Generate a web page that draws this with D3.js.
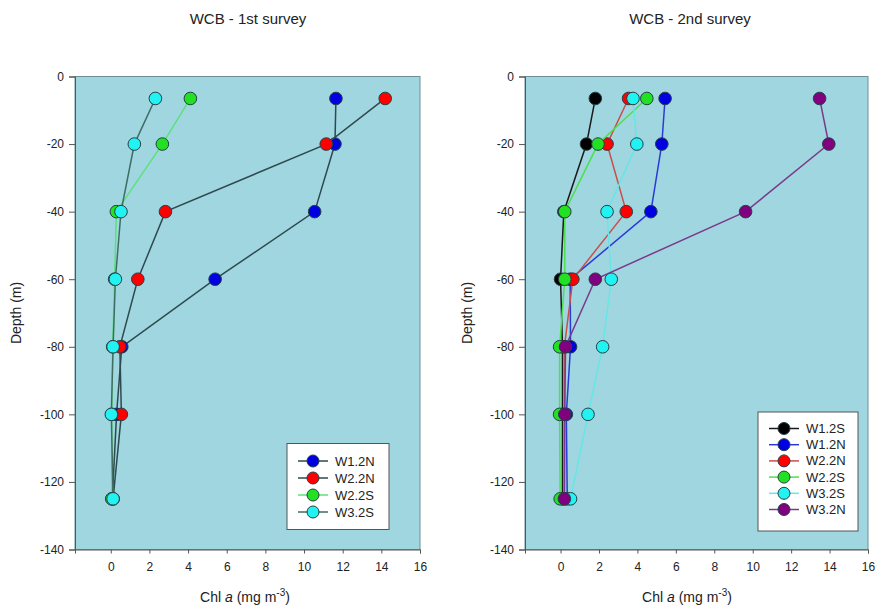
<!DOCTYPE html>
<html><head><meta charset="utf-8">
<script src="https://cdn.jsdelivr.net/npm/d3@7"></script>
<style>body{margin:0;background:#fff;} text{font-family:Arial, "Liberation Sans", sans-serif;}</style>
</head><body><svg id="c" width="881" height="614"></svg>
<script>
const depths = [-6.5, -20, -40, -60, -80, -100, -125];
const xTicks = [0, 2, 4, 6, 8, 10, 12, 14, 16];
const yTicks = [0, -20, -40, -60, -80, -100, -120, -140];

// 1st survey
const s1Names = ["W1.2N", "W2.2N", "W2.2S", "W3.2S"];
const s1_W12N = [11.65, 11.6, 10.55, 5.4, 0.57, 0.3, 0.08];
const s1_W22N = [14.2, 11.15, 2.83, 1.4, 0.47, 0.55, 0.12];
const s1_W22S = [4.12, 2.67, 0.29, 0.2, 0.1, 0.05, 0.05];
const s1_W32S = [2.31, 1.22, 0.53, 0.24, 0.12, 0.03, 0.12];
const s1Fill = ["#0000e0", "#ff0000", "#22e022", "#22f2f2"];
const s1Line = ["#2e4a4e", "#2e4a4e", "#5ee07a", "#3e6e62"];

// 2nd survey
const s2Names = ["W1.2S", "W1.2N", "W2.2N", "W2.2S", "W3.2S", "W3.2N"];
const s2_W12S = [1.81, 1.35, 0.17, 0.0, 0.1, 0.1, 0.1];
const s2_W12N = [5.44, 5.27, 4.7, 0.5, 0.52, 0.3, 0.35];
const s2_W22N = [3.54, 2.42, 3.42, 0.64, 0.2, 0.2, 0.2];
const s2_W22S = [4.49, 1.95, 0.22, 0.22, -0.05, -0.05, -0.02];
const s2_W32S = [3.77, 3.97, 2.42, 2.64, 2.19, 1.43, 0.52];
const s2_W32N = [13.48, 13.96, 9.63, 1.81, 0.26, 0.22, 0.2];
const s2Fill = ["#000000", "#0000e0", "#ff0000", "#22e022", "#22f2f2", "#800080"];
const s2Line = ["#1a1a1a", "#2a3ad8", "#c8504a", "#4ee04e", "#66e6e6", "#7a3a8a"];

const svg = d3.select("#c");
const fmt = d => String(d);

function panel(cfg) {
  const x = d3.scaleLinear().domain([-1.85, 16]).range([cfg.x0, cfg.x1]);
  const y = d3.scaleLinear().domain([0, -140]).range([76.5, 549.5]);
  const g = svg.append("g");
  g.append("rect").attr("x", cfg.x0).attr("y", 76.5).attr("width", cfg.x1 - cfg.x0).attr("height", 473)
    .attr("fill", "#a0d6e0").attr("stroke", "#6f8f96").attr("stroke-width", 1);
  const xa = g.append("g").attr("transform", `translate(0,549.5)`)
    .call(d3.axisBottom(x).tickValues(xTicks).tickSize(4).tickPadding(9).tickFormat(fmt));
  xa.select(".domain").attr("stroke", "#555");
  xa.selectAll(".tick line").attr("stroke", "#555");
  xa.selectAll("text").attr("font-size", 12).attr("fill", "#222").attr("font-family", "Arial");
  const ya = g.append("g").attr("transform", `translate(${cfg.x0},0)`)
    .call(d3.axisLeft(y).tickValues(yTicks).tickSize(6).tickPadding(5).tickFormat(fmt));
  ya.select(".domain").attr("stroke", "#555");
  ya.selectAll(".tick line").attr("stroke", "#555");
  ya.selectAll("text").attr("font-size", 12).attr("fill", "#222").attr("font-family", "Arial");

  cfg.series.forEach((vals, i) => {
    const pts = vals.map((v, k) => [v, depths[k]]);
    g.append("path").attr("d", d3.line().x(d => x(d[0])).y(d => y(d[1]))(pts))
      .attr("fill", "none").attr("stroke", cfg.lines[i]).attr("stroke-width", 1.5);
    g.selectAll(null).data(pts).enter().append("circle")
      .attr("cx", d => x(d[0])).attr("cy", d => y(d[1])).attr("r", 6.3)
      .attr("fill", cfg.fills[i]).attr("stroke", "#244046").attr("stroke-width", 1);
  });

  // legend
  const L = cfg.legend;
  g.append("rect").attr("x", L.x).attr("y", L.y).attr("width", L.w).attr("height", L.h)
    .attr("fill", "#fff").attr("stroke", "#555").attr("stroke-width", 1);
  cfg.names.forEach((n, i) => {
    const cy = L.y + L.first + i * L.step;
    g.append("line").attr("x1", L.x + 11).attr("x2", L.x + 41).attr("y1", cy).attr("y2", cy)
      .attr("stroke", cfg.lines[i]).attr("stroke-width", 1.5);
    g.append("circle").attr("cx", L.x + 26).attr("cy", cy).attr("r", 6)
      .attr("fill", cfg.fills[i]).attr("stroke", "#244046").attr("stroke-width", 1);
    g.append("text").attr("x", L.x + 48).attr("y", cy + 4.5).attr("font-size", 13).attr("fill", "#222").text(n);
  });

  // titles
  svg.append("text").attr("x", cfg.tx).attr("y", 24).attr("text-anchor", "middle")
    .attr("font-size", 15).attr("fill", "#222").text(cfg.title);
  const xt = svg.append("text").attr("x", cfg.xtx).attr("y", 602).attr("text-anchor", "middle")
    .attr("font-size", 14).attr("fill", "#222");
  xt.append("tspan").text("Chl ");
  xt.append("tspan").attr("font-style", "italic").text("a");
  xt.append("tspan").text(" (mg m");
  xt.append("tspan").attr("dy", -6).attr("font-size", 10).text("-3");
  xt.append("tspan").attr("dy", 6).text(")");
  svg.append("text").attr("transform", `translate(${cfg.ytx},313) rotate(-90)`).attr("text-anchor", "middle")
    .attr("font-size", 14).attr("fill", "#222").text("Depth (m)");
}

panel({x0: 75, x1: 420, series: [s1_W12N, s1_W22N, s1_W22S, s1_W32S], names: s1Names, fills: s1Fill, lines: s1Line,
  legend: {x: 287, y: 443.5, w: 102, h: 86, first: 17.5, step: 17},
  title: "WCB - 1st survey", tx: 248, xtx: 245, ytx: 21});
panel({x0: 525, x1: 868, series: [s2_W12S, s2_W12N, s2_W22N, s2_W22S, s2_W32S, s2_W32N], names: s2Names, fills: s2Fill, lines: s2Line,
  legend: {x: 758, y: 412, w: 100, h: 119, first: 16.5, step: 16.2},
  title: "WCB - 2nd survey", tx: 690, xtx: 687, ytx: 472});
</script></body></html>
